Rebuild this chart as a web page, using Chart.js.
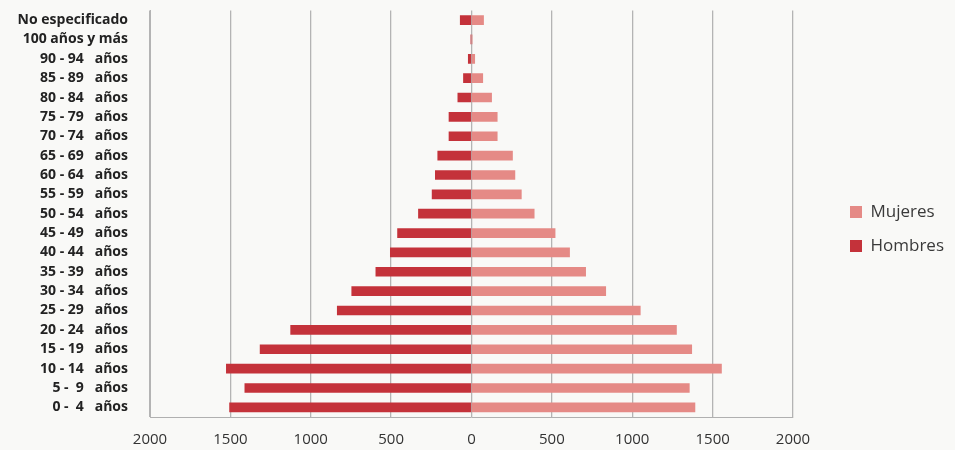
<!DOCTYPE html>
<html>
<head>
<meta charset="utf-8">
<script src="https://cdn.jsdelivr.net/npm/chart.js@4"></script>
<style>
  html, body { margin: 0; padding: 0; background: #f9f9f7; }
  #wrap { width: 955px; height: 450px; }
</style>
</head>
<body>
<div id="wrap"><canvas id="myChart"></canvas></div>
<script>
// age groups, bottom to top of the pyramid
var ageGroups = ['0 -  4   años', '5 -  9   años', '10 - 14   años', '15 - 19   años', '20 - 24   años',
    '25 - 29   años', '30 - 34   años', '35 - 39   años', '40 - 44   años', '45 - 49   años',
    '50 - 54   años', '55 - 59   años', '60 - 64   años', '65 - 69   años', '70 - 74   años',
    '75 - 79   años', '80 - 84   años', '85 - 89   años', '90 - 94   años', '100 años y más',
    'No especificado'];
var hombres = [1505, 1410, 1525, 1315, 1125, 835, 745, 595, 505, 460, 330, 245, 225, 210, 140, 140, 85, 50, 20, 3, 70];
var mujeres = [1390, 1355, 1555, 1370, 1275, 1050, 835, 710, 610, 520, 390, 310, 270, 255, 160, 160, 125, 70, 20, 3, 75];
var xTicks = [-2000, -1500, -1000, -500, 0, 500, 1000, 1500, 2000];

var ctx = document.getElementById('myChart').getContext('2d');
var chart = new Chart(ctx, {
    type: 'bar',
    data: {
        labels: ageGroups,
        datasets: [{
            label: 'Mujeres',
            backgroundColor: '#e58a86',
            data: mujeres,
            barThickness: 9
        }, {
            label: 'Hombres',
            backgroundColor: '#c4323a',
            // men go to the left
            data: hombres.map(function (v) { return -v; }),
            barThickness: 9
        }]
    },
    options: {
        indexAxis: 'y',
        responsive: true,
        maintainAspectRatio: false,
        animation: false,
        layout: { padding: { top: 9, left: 10, right: 1, bottom: 1 } },
        plugins: {
            legend: {
                position: 'right',
                labels: {
                    boxWidth: 12,
                    boxHeight: 12,
                    padding: 17,
                    color: '#3a3a3a',
                    font: { family: 'Open Sans', size: 17 }
                }
            },
            tooltip: { enabled: false }
        },
        scales: {
            x: {
                stacked: true,
                min: -2000,
                max: 2000,
                afterBuildTicks: function (scale) {
                    scale.ticks = xTicks.map(function (v) { return { value: v }; });
                },
                afterFit: function (scale) { scale.height = 32; },
                ticks: {
                    padding: 14,
                    color: '#333',
                    font: { family: 'Open Sans', size: 15 },
                    callback: function (v) { return Math.abs(v); }
                },
                grid: {
                    drawTicks: false,
                    color: '#b4b4b4',
                    lineWidth: 1.3
                },
                border: { display: true, color: '#b0b0b0' }
            },
            y: {
                stacked: true,
                reverse: true,
                afterFit: function (scale) { scale.width = 140; },
                ticks: {
                    autoSkip: false,
                    padding: 2,
                    color: '#222',
                    font: { family: 'Open Sans', size: 14, weight: 'bold' }
                },
                // invisible tick marks only push the labels away from the axis
                grid: { display: true, drawOnChartArea: false, tickLength: 20, tickColor: 'rgba(0,0,0,0)' },
                border: { display: true, color: '#b4b4b4' }
            },
            // empty axis that leaves a gap before the legend
            gap: {
                type: 'linear',
                axis: 'y',
                position: 'right',
                grid: { display: false },
                ticks: { display: false },
                border: { display: false },
                afterFit: function (scale) { scale.width = 40; }
            }
        }
    }
});
</script>
</body>
</html>
